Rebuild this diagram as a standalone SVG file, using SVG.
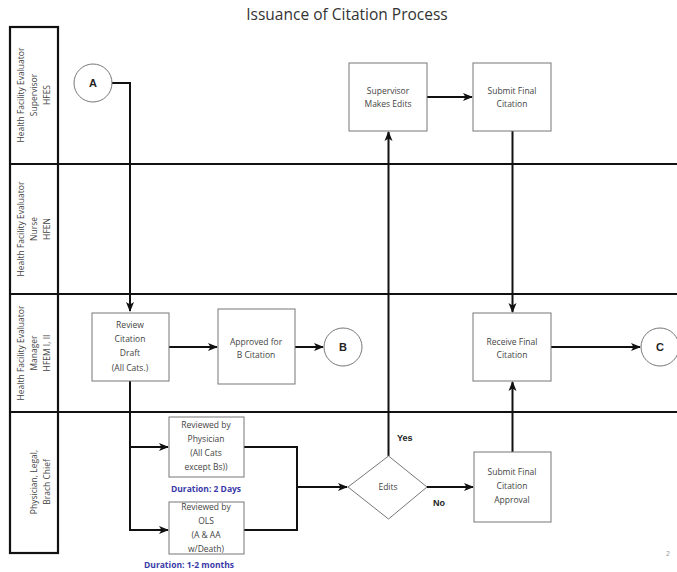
<svg xmlns="http://www.w3.org/2000/svg" width="677" height="572" viewBox="0 0 677 572">
<style>
.lane{fill:none;stroke:#111;stroke-width:2.2}
.node{fill:#fff;stroke:#777;stroke-width:1}
.t{font-family:"Open Sans","Liberation Sans",sans-serif;font-size:8.5px;fill:#444;text-anchor:middle}
.lt{font-family:"Open Sans","Liberation Sans",sans-serif;font-size:8.5px;fill:#444;text-anchor:middle}
.ct{font-family:"Liberation Sans",sans-serif;font-size:11px;font-weight:bold;fill:#222;text-anchor:middle}
.dur{font-family:"Open Sans","Liberation Sans",sans-serif;font-size:8.5px;font-weight:bold;fill:#3a3aa8;text-anchor:middle}
.yn{font-family:"Liberation Sans",sans-serif;font-size:9px;font-weight:bold;fill:#222}
.c{fill:none;stroke:#111;stroke-width:2}
</style>
<defs>
<marker id="ar" viewBox="0 0 10 10" refX="9" refY="5" markerWidth="5" markerHeight="5" orient="auto" markerUnits="strokeWidth">
<path d="M0,1 L10,5 L0,9 L2.5,5 Z" fill="#111"/>
</marker>
</defs>
<rect width="677" height="572" fill="#fff"/>
<text x="347" y="20" font-family="'Open Sans','Liberation Sans',sans-serif" font-size="15.5" fill="#333" text-anchor="middle">Issuance of Citation Process</text>
<g id="lanes">
<rect class="lane" x="10" y="27" width="48" height="526"/>
<line class="lane" x1="10" y1="164" x2="677" y2="164"/>
<line class="lane" x1="10" y1="294" x2="677" y2="294"/>
<line class="lane" x1="10" y1="412" x2="677" y2="412"/>
<g transform="translate(34,95) rotate(-90)">
<text class="lt" x="0" y="-10">Health Facility Evaluator</text>
<text class="lt" x="0" y="3">Supervisor</text>
<text class="lt" x="0" y="16">HFES</text>
</g>
<g transform="translate(34,229) rotate(-90)">
<text class="lt" x="0" y="-10">Health Facility Evaluator</text>
<text class="lt" x="0" y="3">Nurse</text>
<text class="lt" x="0" y="16">HFEN</text>
</g>
<g transform="translate(34,353) rotate(-90)">
<text class="lt" x="0" y="-10">Health Facility Evaluator</text>
<text class="lt" x="0" y="3">Manager</text>
<text class="lt" x="0" y="16">HFEM I, II</text>
</g>
<g transform="translate(34,482) rotate(-90)">
<text class="lt" x="0" y="3">Physician, Legal,</text>
<text class="lt" x="0" y="16">Brach Chief</text>
</g>
</g>
<g id="connectors">
<path class="c" d="M112,83 H130 V311" marker-end="url(#ar)"/>
<path class="c" d="M169,347 H217" marker-end="url(#ar)"/>
<path class="c" d="M295,347 H323" marker-end="url(#ar)"/>
<path class="c" d="M130,381 V530 H168" marker-end="url(#ar)"/>
<path class="c" d="M130,447 H168" marker-end="url(#ar)"/>
<path class="c" d="M244,447 H297 V530 H244"/>
<path class="c" d="M297,487 H347" marker-end="url(#ar)"/>
<path class="c" d="M388.5,456 V132" marker-end="url(#ar)"/>
<path class="c" d="M427,97 H472" marker-end="url(#ar)"/>
<path class="c" d="M512.5,131 V312" marker-end="url(#ar)"/>
<path class="c" d="M427,487 H473" marker-end="url(#ar)"/>
<path class="c" d="M512.5,452 V382" marker-end="url(#ar)"/>
<path class="c" d="M551,347 H640" marker-end="url(#ar)"/>
<text class="yn" x="397" y="441">Yes</text>
<text class="yn" x="433" y="506">No</text>
</g>
<g id="A"><circle class="node" cx="93" cy="83" r="19"/><text class="ct" x="93" y="87">A</text></g>
<g id="B"><circle class="node" cx="343" cy="347" r="19"/><text class="ct" x="343" y="351">B</text></g>
<g id="C"><circle class="node" cx="660" cy="347" r="19"/><text class="ct" x="660" y="351">C</text></g>
<g id="supervisor"><rect class="node" x="349" y="63" width="78" height="68"/><text class="t" x="388" y="94">Supervisor</text><text class="t" x="388" y="107">Makes Edits</text></g>
<g id="submit-final"><rect class="node" x="473" y="63" width="78" height="68"/><text class="t" x="512" y="94">Submit Final</text><text class="t" x="512" y="107">Citation</text></g>
<g id="review"><rect class="node" x="92" y="313" width="77" height="68"/><text class="t" x="130" y="328">Review</text><text class="t" x="130" y="342">Citation</text><text class="t" x="130" y="356">Draft</text><text class="t" x="130" y="371">(All Cats.)</text></g>
<g id="approved"><rect class="node" x="218" y="309" width="77" height="75"/><text class="t" x="256" y="345">Approved for</text><text class="t" x="256" y="358">B Citation</text></g>
<g id="receive"><rect class="node" x="473" y="313" width="78" height="68"/><text class="t" x="512" y="345">Receive Final</text><text class="t" x="512" y="358">Citation</text></g>
<g id="physician"><rect class="node" x="169" y="417" width="75" height="60"/><text class="t" x="206" y="428">Reviewed by</text><text class="t" x="206" y="442">Physician</text><text class="t" x="206" y="456">(All Cats</text><text class="t" x="206" y="470">except Bs))</text><text class="dur" x="206" y="492">Duration: 2 Days</text></g>
<g id="ols"><rect class="node" x="169" y="502" width="75" height="52"/><text class="t" x="206" y="510">Reviewed by</text><text class="t" x="206" y="524">OLS</text><text class="t" x="206" y="538">(A &amp; AA</text><text class="t" x="206" y="552">w/Death)</text><text class="dur" x="189" y="568">Duration: 1-2 months</text></g>
<g id="edits"><polygon class="node" points="388.5,456 427,487 388.5,519 348,487"/><text class="t" x="388" y="490">Edits</text></g>
<g id="submit-approval"><rect class="node" x="474" y="452" width="77" height="70"/><text class="t" x="512" y="475">Submit Final</text><text class="t" x="512" y="489">Citation</text><text class="t" x="512" y="503">Approval</text></g>
<text x="668" y="556" font-family="'Liberation Sans',sans-serif" font-size="7" fill="#999" text-anchor="middle">2</text>
</svg>
